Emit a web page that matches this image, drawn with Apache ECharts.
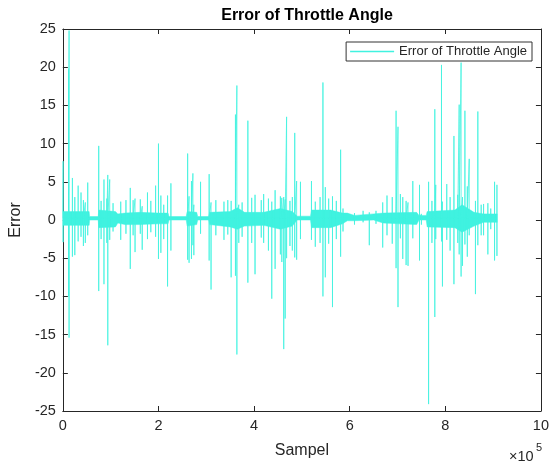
<!DOCTYPE html>
<html>
<head>
<meta charset="utf-8">
<script src="https://cdn.jsdelivr.net/npm/echarts@6/dist/echarts.min.js"></script>
<style>
  html, body { margin: 0; padding: 0; background: #fff; }
  #chart { width: 552px; height: 464px; }
</style>
</head>
<body>
<div id="chart"></div>
<script>
// error trace: one entry per visible spike (sample, top, bottom)
const spikeX = [500, 12000, 13000, 20000, 25000, 32000, 38000, 43000, 47000, 52000,
  75000, 80000, 86000, 92000, 94000, 98000, 105000, 121000, 132000, 141000,
  147000, 151000, 162000, 166000, 177000, 184000, 194000, 200000, 205000, 211000,
  219000, 226000, 261000, 264000, 269000, 272000, 274000, 288000, 306000, 310000,
  320000, 337000, 345000, 352000, 361000, 364000, 368000, 375000, 387000, 395000,
  402000, 415000, 420000, 430000, 437000, 444000, 455000, 458000, 462000, 465000,
  468000, 475000, 480000, 485000, 489000, 497000, 520000, 528000, 538000, 544000,
  549000, 556000, 564000, 572000, 581000, 586000, 610000, 628000, 641000, 655000,
  669000, 678000, 689000, 697000, 701000, 706000, 711000, 718000, 722000, 732000,
  746000, 750000, 765000, 772000, 778000, 780000, 792000, 794000, 803000, 810000,
  818000, 826000, 829000, 833000, 836000, 841000, 846000, 850000, 863000, 868000,
  875000, 880000, 889000, 895000, 903000, 908000];
const spikeUp = [7.7, 19.8, 24.8, 5.5, 3.0, 4.5, 3.6, 2.6, 2.3, 4.9,
  9.7, 2.5, 5.3, 2.8, 5.9, 5.3, 2.2, 2.4, 2.6, 4.2,
  2.6, 2.8, 2.7, 1.8, 3.6, 2.5, 4.5, 10.0, 3.2, 2.0,
  3.2, 4.8, 8.7, 3.1, 5.1, 6.1, 2.0, 5.0, 6.0, 2.3,
  2.6, 2.4, 2.6, 2.5, 13.8, 17.6, 2.0, 2.3, 13.0, 2.9,
  3.3, 2.6, 3.4, 2.8, 2.4, 3.9, 3.1, 2.9, 3.0, 2.7,
  13.5, 2.5, 3.0, 11.4, 5.1, 5.0, 5.1, 2.4, 3.0, 18.0,
  4.3, 2.8, 3.1, 2.5, 9.2, 1.5, 0.9, 1.2, 1.0, 1.2,
  2.3, 3.2, 3.0, 14.3, 12.2, 3.4, 3.0, 2.5, 2.3, 5.1,
  4.6, 0.8, 5.0, 2.5, 14.5, 4.6, 20.3, 2.4, 4.7, 3.0,
  11.0, 3.3, 15.1, 20.6, 3.0, 14.3, 4.4, 8.0, 2.5, 14.2,
  2.0, 2.1, 2.2, 1.5, 5.0, 4.6];
const spikeDown = [-2.9, -10.0, -15.4, -4.8, -4.6, -2.8, -2.2, -3.4, -3.0, -2.0,
  -9.3, -2.5, -8.4, -3.0, -16.4, -2.6, -1.5, -2.6, -1.8, -6.4,
  -2.0, -4.2, -1.8, -3.9, -2.5, -1.6, -2.2, -5.1, -4.3, -2.5,
  -8.7, -4.0, -5.2, -5.6, -5.1, -3.3, -4.6, -1.8, -5.3, -9.1,
  -2.0, -2.6, -1.9, -7.5, -7.3, -17.6, -3.0, -2.2, -8.2, -3.0,
  -7.1, -2.3, -3.0, -4.0, -10.3, -6.4, -4.5, -5.5, -16.9, -12.9,
  -5.0, -3.4, -4.0, -4.9, -5.2, -2.5, -2.6, -3.5, -3.0, -10.0,
  -7.5, -3.1, -11.4, -2.5, -4.8, -1.5, -0.6, -0.3, -3.3, -0.5,
  -3.6, -2.0, -3.1, -6.3, -11.4, -2.4, -5.1, -5.9, -6.0, -2.4,
  -5.3, -0.6, -24.1, -3.0, -12.7, -2.5, -2.8, -8.7, -2.6, -4.0,
  -8.4, -3.0, -4.5, -7.4, -6.0, -3.2, -4.8, -2.0, -9.7, -3.3,
  -2.0, -2.0, -4.5, -1.2, -5.3, -4.7];
const baseLevel = 0.2;
const lastSample = 909000;

// dense noise band around the base level (upper / lower edge)
const bandX = [0, 55000, 56000, 74000, 75000, 110000, 115000, 130000, 160000, 200000,
  220000, 222000, 258000, 260000, 280000, 282000, 305000, 307000, 350000, 365000,
  380000, 420000, 455000, 480000, 490000, 518000, 520000, 560000, 585000, 595000,
  610000, 650000, 670000, 672000, 740000, 745000, 760000, 762000, 820000, 835000,
  860000, 880000, 909000];
const bandHigh = [1.1, 1.1, 0.45, 0.45, 1.3, 1.1, 0.8, 0.9, 1.0, 0.9,
  0.9, 0.45, 0.45, 1.1, 1.0, 0.45, 0.45, 1.0, 1.1, 1.6,
  1.0, 1.0, 1.5, 1.1, 0.5, 0.5, 1.3, 1.3, 0.9, 0.9,
  0.6, 0.8, 0.9, 1.0, 1.0, 0.6, 0.6, 1.1, 1.3, 2.0,
  1.0, 0.8, 0.8];
const bandLow = [-0.7, -0.7, 0.0, 0.0, -1.0, -0.9, -0.4, -0.6, -0.6, -0.5,
  -0.5, 0.0, 0.0, -0.8, -0.6, 0.0, 0.0, -0.6, -0.9, -1.2,
  -0.8, -0.7, -1.2, -0.8, 0.0, 0.0, -1.0, -1.0, -0.5, -0.1,
  -0.1, 0.0, -0.4, -0.6, -0.6, 0.0, 0.0, -0.9, -1.0, -1.6,
  -0.8, -0.3, -0.3];

const yTicks = { min: -25, max: 25, step: 5 };
const xTicks = { min: 0, max: 1000000, step: 200000 };

const lineColor = '#40F2E0';
const axisColor = '#262626';
const font = '"Liberation Sans", Arial, Helvetica, sans-serif';

function traceData() {
  const out = [[0, baseLevel]];
  for (let i = 0; i < spikeX.length; i++) {
    out.push([spikeX[i], baseLevel], [spikeX[i], spikeUp[i]], [spikeX[i], spikeDown[i]], [spikeX[i], baseLevel]);
  }
  out.push([lastSample, baseLevel]);
  return out;
}

const chart = echarts.init(document.getElementById('chart'), null, { renderer: 'canvas' });

const xBase = {
  type: 'value', min: xTicks.min, max: xTicks.max, interval: xTicks.step,
  axisLine: { show: true, onZero: false, lineStyle: { color: axisColor, width: 1 } },
  axisTick: { show: true, inside: true, length: 5, lineStyle: { color: axisColor } },
  splitLine: { show: false }
};
const yBase = {
  type: 'value', min: yTicks.min, max: yTicks.max, interval: yTicks.step,
  axisLine: { show: true, onZero: false, lineStyle: { color: axisColor, width: 1 } },
  axisTick: { show: true, inside: true, length: 5, lineStyle: { color: axisColor } },
  splitLine: { show: false }
};

// the band: both edges filled towards zero, so together they cover low..high
function bandSeries(name, values) {
  return {
    name: name, type: 'line',
    data: bandX.map((x, i) => [x, values[i]]),
    symbol: 'none', silent: true,
    lineStyle: { width: 0.5, color: lineColor },
    areaStyle: { color: lineColor, opacity: 1, origin: 0 },
    z: 2
  };
}

chart.setOption({
  animation: false,
  title: {
    text: 'Error of Throttle Angle',
    left: 302, top: 3, textAlign: 'center',
    textStyle: { fontFamily: font, fontSize: 16, fontWeight: 'bold', color: '#000' }
  },
  legend: {
    data: [{ name: 'Error of Throttle Angle', icon: 'rect', itemStyle: { color: lineColor } }],
    right: 20, top: 42,
    itemWidth: 44, itemHeight: 1.5,
    padding: [3, 5, 3, 4],
    borderColor: '#333', borderWidth: 1,
    backgroundColor: '#fff',
    textStyle: { fontFamily: font, fontSize: 13, color: axisColor }
  },
  grid: { left: 61, right: 9, top: 29, bottom: 52 },
  xAxis: [
    Object.assign({}, xBase, {
      position: 'bottom',
      axisLabel: { formatter: v => String(v / 1e5), fontFamily: font, fontSize: 14.5, color: axisColor, margin: 7 },
      name: 'Sampel', nameLocation: 'middle', nameGap: 32,
      nameTextStyle: { fontFamily: font, fontSize: 16, color: axisColor }
    }),
    Object.assign({}, xBase, { position: 'top', axisLabel: { show: false } })
  ],
  yAxis: [
    Object.assign({}, yBase, {
      position: 'left',
      axisLabel: { fontFamily: font, fontSize: 14.5, color: axisColor, margin: 7 },
      name: 'Error', nameLocation: 'middle', nameGap: 29, nameRotate: 90,
      nameTextStyle: { fontFamily: font, fontSize: 16, color: axisColor }
    }),
    Object.assign({}, yBase, { position: 'right', axisLabel: { show: false } })
  ],
  graphic: [
    { type: 'text', left: 509, top: 449, style: { text: '×10', font: '14.5px ' + font, fill: axisColor } },
    { type: 'text', left: 536, top: 442, style: { text: '5', font: '11px ' + font, fill: axisColor } }
  ],
  series: [
    bandSeries('band high', bandHigh),
    bandSeries('band low', bandLow),
    {
      name: 'Error of Throttle Angle', type: 'line',
      data: traceData(),
      symbol: 'none', color: lineColor,
      lineStyle: { width: 0.8, color: lineColor }, z: 3
    }
  ]
});
</script>
</body>
</html>
